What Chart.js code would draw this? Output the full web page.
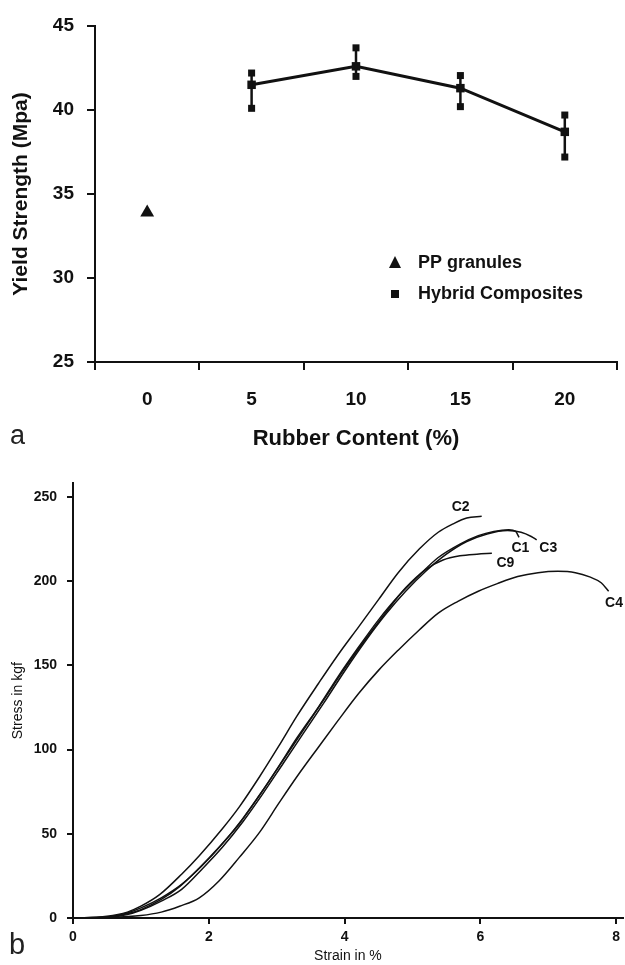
<!DOCTYPE html>
<html>
<head>
<meta charset="utf-8">
<script src="https://cdn.jsdelivr.net/npm/chart.js@4.4.0/dist/chart.umd.min.js"></script>
<style>
  body { margin: 0; background: #fff; width: 625px; height: 965px; position: relative; overflow: hidden; }
  canvas { position: absolute; left: 0; }
  .tag { position: absolute; font-family: "Liberation Sans", Arial, sans-serif; color: #222; }
</style>
</head>
<body>
<canvas id="yield-chart" width="625" height="465" style="top:0"></canvas>
<canvas id="stress-chart" width="625" height="500" style="top:465px"></canvas>
<div class="tag" style="left:10px; top:420px; font-size:27px;">a</div>
<div class="tag" style="left:9px; top:928px; font-size:29px;">b</div>
<script>
// --- dados do grafico (a)
var rubberContent = ['0', '5', '10', '15', '20'];
var ppValues = [33.9, null, null, null, null];
var hybridValues = [null, 41.5, 42.6, 41.3, 38.7];
var hybridUpper = [null, 42.2, 43.7, 42.05, 39.7];
var hybridLower = [null, 40.1, 42.0, 40.2, 37.2];
var yieldTicks = [25, 30, 35, 40, 45];
var legendNames = ['PP granules', 'Hybrid Composites'];

// --- dados do grafico (b)
var c2Strain = [0, 0.5, 0.8, 1.0, 1.28, 1.6, 1.86, 2.2, 2.45, 2.75, 3.03, 3.3, 3.62, 3.9, 4.21, 4.5, 4.79, 5.1, 5.38, 5.6, 5.8, 6.02];
var c2Stress = [0, 1, 3.5, 7, 14, 26, 37, 53, 66, 84, 102, 120, 139.5, 156, 173, 189, 205, 219, 229, 234, 237.5, 238.5];
var c1Strain = [0, 0.5, 0.8, 1.0, 1.3, 1.57, 1.86, 2.15, 2.45, 2.75, 3.03, 3.3, 3.62, 3.9, 4.21, 4.5, 4.79, 5.1, 5.38, 5.7, 5.97, 6.2, 6.42, 6.52, 6.57];
var c1Stress = [0, 0.5, 2.5, 5, 11, 18.6, 29.7, 42, 56, 73, 90, 107, 125.5, 143, 161, 177, 191, 203.5, 214, 222, 227, 229.5, 230.5, 229.5, 226];
var c3Strain = [0, 0.5, 0.8, 1.0, 1.3, 1.6, 1.9, 2.2, 2.5, 2.8, 3.1, 3.4, 3.7, 4.0, 4.3, 4.6, 4.9, 5.2, 5.5, 5.8, 6.1, 6.4, 6.6, 6.75, 6.83];
var c3Stress = [0, 0.4, 2, 4.5, 10, 17, 29, 42, 57, 74, 92, 110, 128, 146.5, 164, 180, 194, 206, 216, 223.5, 228, 230, 229, 226.5, 224.5];
var c9Strain = [0, 0.5, 0.8, 1.0, 1.3, 1.6, 1.9, 2.2, 2.5, 2.8, 3.1, 3.4, 3.7, 4.0, 4.3, 4.6, 4.9, 5.2, 5.45, 5.7, 5.95, 6.17];
var c9Stress = [0, 0.5, 3, 6, 12, 20, 31, 44, 59, 76, 94, 112, 130, 148, 165, 181, 196, 207, 212.5, 215, 216, 216.5];
var c4Strain = [0, 0.5, 1.0, 1.3, 1.57, 1.86, 2.15, 2.45, 2.75, 3.03, 3.3, 3.62, 3.9, 4.21, 4.5, 4.79, 5.1, 5.38, 5.67, 5.97, 6.25, 6.55, 6.85, 7.14, 7.4, 7.61, 7.78, 7.89];
var c4Stress = [0, 0.3, 1.5, 3.5, 7, 12, 22, 36, 51, 68, 84, 101.7, 117, 133.4, 147, 159, 171, 181, 188, 194, 198.5, 202.7, 205, 205.8, 205, 202.5, 199, 194];
var curveNames = ['C2', 'C1', 'C3', 'C9', 'C4'];
var labelStrain = [5.71, 6.59, 7.0, 6.37, 7.97];
var labelStress = [244, 219.7, 219.7, 210.8, 187];
var stressTicks = [0, 50, 100, 150, 200, 250];
var strainTicks = [0, 2, 4, 6, 8];

var FONT = '"Liberation Sans", Arial, sans-serif';
Chart.defaults.font.family = FONT;
Chart.defaults.color = '#111';

function toXY(xs, ys) {
  return xs.map(function (v, i) { return { x: v, y: ys[i] }; });
}

// barras de erro + legenda do grafico (a)
var errorBars = {
  id: 'errorBars',
  afterDatasetsDraw: function (chart) {
    var ctx = chart.ctx, x = chart.scales.x, y = chart.scales.y;
    ctx.save();
    ctx.strokeStyle = '#111';
    ctx.fillStyle = '#111';
    ctx.lineWidth = 2.5;
    hybridValues.forEach(function (v, i) {
      if (v === null) return;
      var px = x.getPixelForValue(i);
      var top = y.getPixelForValue(hybridUpper[i]);
      var bot = y.getPixelForValue(hybridLower[i]);
      ctx.beginPath();
      ctx.moveTo(px, top);
      ctx.lineTo(px, bot);
      ctx.stroke();
      ctx.fillRect(px - 3.5, top - 3.5, 7, 7);
      ctx.fillRect(px - 3.5, bot - 3.5, 7, 7);
    });
    ctx.restore();
  }
};

var yieldLegend = {
  id: 'yieldLegend',
  afterDraw: function (chart) {
    var ctx = chart.ctx, a = chart.chartArea;
    var lx = a.left + 300, ly = a.top + 237;
    ctx.save();
    ctx.fillStyle = '#111';
    ctx.beginPath();
    ctx.moveTo(lx, ly - 7);
    ctx.lineTo(lx + 6, ly + 5);
    ctx.lineTo(lx - 6, ly + 5);
    ctx.closePath();
    ctx.fill();
    ctx.fillRect(lx - 4, ly + 27, 8, 8);
    ctx.font = 'bold 18px ' + FONT;
    ctx.textBaseline = 'middle';
    ctx.fillText(legendNames[0], lx + 23, ly);
    ctx.fillText(legendNames[1], lx + 23, ly + 31);
    ctx.restore();
  }
};

var yieldChart = new Chart(document.getElementById('yield-chart'), {
  type: 'line',
  data: {
    labels: rubberContent,
    datasets: [{
      label: legendNames[0],
      data: ppValues,
      showLine: false,
      pointStyle: 'triangle',
      pointRadius: 8,
      backgroundColor: '#111',
      borderWidth: 0
    }, {
      label: legendNames[1],
      data: hybridValues,
      borderColor: '#111',
      borderWidth: 3,
      pointStyle: 'rect',
      pointRadius: 6,
      backgroundColor: '#111',
      pointBorderWidth: 0,
      tension: 0
    }]
  },
  options: {
    responsive: false,
    animation: false,
    layout: { padding: { top: 26, right: 5, bottom: 0, left: 0 } },
    plugins: { legend: { display: false }, tooltip: { enabled: false } },
    scales: {
      x: {
        type: 'category',
        offset: true,
        grid: { offset: true, drawOnChartArea: false, color: '#111', lineWidth: 2, tickLength: 8 },
        border: { color: '#111', width: 2 },
        ticks: { font: { size: 19, weight: 'bold' }, padding: 18, color: '#111' },
        title: { display: true, text: 'Rubber Content (%)', font: { size: 22, weight: 'bold' }, padding: { top: 0, bottom: 13 }, color: '#111' },
        afterFit: function (s) { s.height = 103; }
      },
      y: {
        min: 25,
        max: 45,
        afterBuildTicks: function (s) { s.ticks = yieldTicks.map(function (v) { return { value: v }; }); },
        grid: { drawOnChartArea: false, color: '#111', lineWidth: 2, tickLength: 8 },
        border: { color: '#111', width: 2 },
        ticks: { font: { size: 19, weight: 'bold' }, padding: 13, color: '#111' },
        title: { display: true, text: 'Yield Strength (Mpa)', font: { size: 21, weight: 'bold' }, padding: { top: 9, bottom: 0 }, color: '#111' },
        afterFit: function (s) { s.width = 95; }
      }
    }
  },
  plugins: [errorBars, yieldLegend]
});

// rotulos das curvas do grafico (b)
var curveLabels = {
  id: 'curveLabels',
  afterDatasetsDraw: function (chart) {
    var ctx = chart.ctx, x = chart.scales.x, y = chart.scales.y;
    ctx.save();
    ctx.fillStyle = '#111';
    ctx.font = 'bold 14px ' + FONT;
    ctx.textAlign = 'center';
    ctx.textBaseline = 'middle';
    curveNames.forEach(function (n, i) {
      ctx.fillText(n, x.getPixelForValue(labelStrain[i]), y.getPixelForValue(labelStress[i]));
    });
    ctx.restore();
  }
};

function curve(name, xs, ys) {
  return {
    label: name,
    data: toXY(xs, ys),
    showLine: true,
    borderColor: '#111',
    borderWidth: 1.5,
    pointRadius: 0,
    cubicInterpolationMode: 'monotone'
  };
}

var stressChart = new Chart(document.getElementById('stress-chart'), {
  type: 'scatter',
  data: {
    datasets: [
      curve('C2', c2Strain, c2Stress),
      curve('C1', c1Strain, c1Stress),
      curve('C3', c3Strain, c3Stress),
      curve('C9', c9Strain, c9Stress),
      curve('C4', c4Strain, c4Stress)
    ]
  },
  options: {
    responsive: false,
    animation: false,
    layout: { padding: { top: 18, right: 0, bottom: 0, left: 0 } },
    plugins: { legend: { display: false }, tooltip: { enabled: false } },
    scales: {
      x: {
        type: 'linear',
        min: 0,
        max: 8.1,
        afterBuildTicks: function (s) { s.ticks = strainTicks.map(function (v) { return { value: v }; }); },
        grid: { drawOnChartArea: false, color: '#111', lineWidth: 2, tickLength: 6 },
        border: { color: '#111', width: 2 },
        ticks: { font: { size: 14, weight: 'bold' }, padding: 5, color: '#111' },
        title: { display: true, text: 'Strain in %', font: { size: 14 }, padding: { top: 0, bottom: 0 }, color: '#111' },
        afterFit: function (s) { s.height = 47; }
      },
      y: {
        min: 0,
        max: 258,
        afterBuildTicks: function (s) { s.ticks = stressTicks.map(function (v) { return { value: v }; }); },
        grid: { drawOnChartArea: false, color: '#111', lineWidth: 2, tickLength: 6 },
        border: { color: '#111', width: 2 },
        ticks: { font: { size: 14, weight: 'bold' }, padding: 10, color: '#111' },
        title: { display: true, text: 'Stress in kgf', font: { size: 14 }, padding: { top: 10, bottom: 0 }, color: '#111' },
        afterFit: function (s) { s.width = 73; }
      }
    }
  },
  plugins: [curveLabels]
});
</script>
</body>
</html>
